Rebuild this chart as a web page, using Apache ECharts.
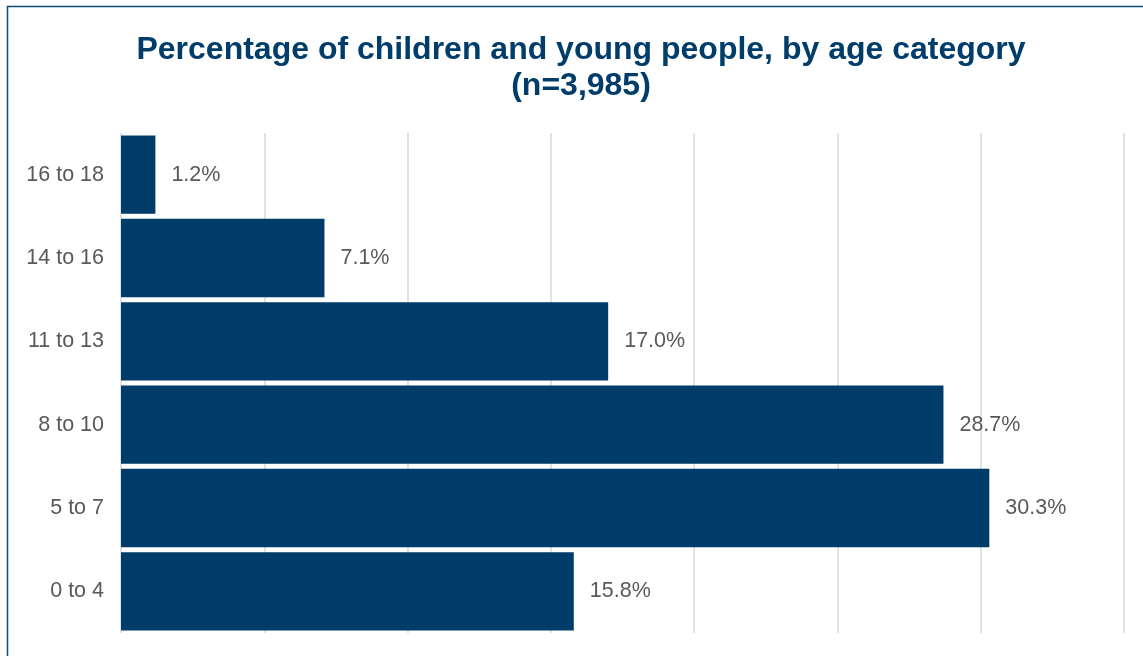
<!DOCTYPE html>
<html>
<head>
<meta charset="utf-8">
<script src="https://cdn.jsdelivr.net/npm/echarts@6/dist/echarts.min.js"></script>
<style>
  html, body { margin: 0; padding: 0; background: #fff; }
  #chart { width: 1143px; height: 656px; }
</style>
</head>
<body>
<div id="chart"></div>
<script>
// age bands, bottom to top
const ageBands = ['0 to 4', '5 to 7', '8 to 10', '11 to 13', '14 to 16', '16 to 18'];
const sharePct = [15.8, 30.3, 28.7, 17.0, 7.1, 1.2];

const titleText = 'Percentage of children and young people, by age category\n(n=3,985)';
const navy = '#003C69';
const font = '"Liberation Sans", Arial, sans-serif';

const chart = echarts.init(document.getElementById('chart'), null, { renderer: 'canvas' });

chart.setOption({
  backgroundColor: '#fff',
  animation: false,
  graphic: [{
    type: 'rect',
    shape: { x: 7.5, y: 6.5, width: 1300, height: 800 },
    style: { fill: 'none', stroke: '#0E4C7A', lineWidth: 1.5 },
    silent: true
  }],
  title: {
    text: titleText,
    left: 576,
    textAlign: 'center',
    top: 27,
    textStyle: {
      color: '#003D6B',
      fontFamily: font,
      fontWeight: 'bold',
      fontSize: 32,
      lineHeight: 36
    }
  },
  grid: { left: 121, right: 19, top: 133, bottom: 23, containLabel: false },
  xAxis: {
    type: 'value',
    min: 0,
    max: 35,
    interval: 5,
    axisLabel: { show: false },
    axisLine: { show: false },
    axisTick: { show: false },
    splitLine: { show: true, lineStyle: { color: '#D9D9D9', width: 1.5 } }
  },
  yAxis: {
    type: 'category',
    data: ageBands,
    axisLine: { show: false },
    axisTick: { show: false },
    axisLabel: {
      color: '#595959',
      fontFamily: font,
      fontSize: 21.5,
      margin: 17,
      padding: [4, 0, 0, 0]
    }
  },
  series: [{
    type: 'bar',
    data: sharePct,
    barCategoryGap: '6%',
    itemStyle: { color: navy },
    label: {
      show: true,
      position: 'right',
      distance: 16,
      color: '#595959',
      fontFamily: font,
      fontSize: 21.5,
      padding: [4, 0, 0, 0],
      formatter: (p) => p.value.toFixed(1) + '%'
    }
  }]
});
</script>
</body>
</html>
